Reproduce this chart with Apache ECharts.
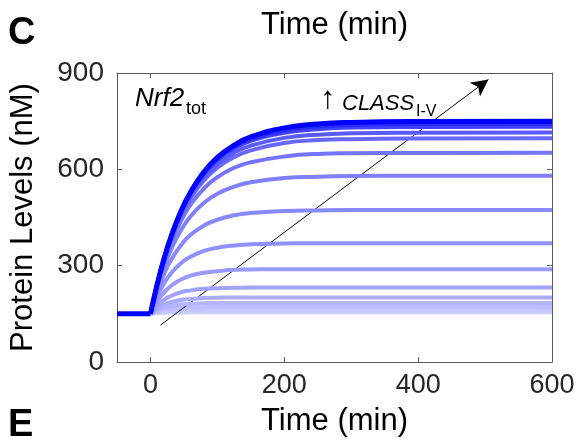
<!DOCTYPE html>
<html>
<head>
<meta charset="utf-8">
<script src="https://cdn.jsdelivr.net/npm/echarts@6/dist/echarts.min.js"></script>
<style>
html,body{margin:0;padding:0;background:#fff;}
#chart{width:579px;height:444px;}
</style>
</head>
<body>
<div id="chart"></div>
<script>
// ---- data ----
const timePoints = [0, 10, 20, 30, 45, 60, 80, 100, 125, 150, 200, 250, 300, 400, 600];
const baselineTime = [-50, 0];
const baselineValue = [150, 150];

const nrf2_c01 = [150,152,153,154,154,155,155,155,155,155,155,155,155,155,155];
const nrf2_c02 = [150,154,157,159,160,161,162,162,162,162,162,162,162,162,162];
const nrf2_c03 = [150,158,163,166,169,170,171,172,172,172,172,172,172,172,172];
const nrf2_c04 = [150,162,169,174,179,181,183,184,184,184,184,184,184,184,184];
const nrf2_c05 = [150,167,178,186,193,196,199,200,201,201,201,201,201,201,201];
const nrf2_c06 = [150,175,193,205,217,223,228,230,231,232,232,232,232,232,232];
const nrf2_c07 = [150,188,216,236,256,269,278,283,287,288,289,289,289,289,289];
const nrf2_c08 = [150,203,244,274,307,328,346,356,363,367,369,370,370,370,370];
const nrf2_c09 = [150,218,272,315,362,396,425,443,457,464,470,472,473,473,473];
const nrf2_c10 = [150,229,294,347,408,454,496,524,546,560,573,577,579,580,580];
const nrf2_c11 = [150,236,308,367,437,490,541,576,605,622,640,648,650,651,652];
const nrf2_c12 = [150,239,314,377,452,510,566,605,638,659,682,691,694,696,697];
const nrf2_c13 = [150,241,317,381,458,518,576,617,652,674,698,708,712,714,715];
const nrf2_c14 = [150,242,320,385,465,526,586,629,665,689,714,725,730,732,733];
const nrf2_c15 = [150,242,320,386,466,528,589,633,671,695,722,733,738,741,742];
const nrf2_c16 = [150,242,320,386,467,529,592,637,675,701,729,741,746,749,750];

const curves = [nrf2_c01,nrf2_c02,nrf2_c03,nrf2_c04,nrf2_c05,nrf2_c06,nrf2_c07,nrf2_c08,
                nrf2_c09,nrf2_c10,nrf2_c11,nrf2_c12,nrf2_c13,nrf2_c14,nrf2_c15,nrf2_c16];
const curveColors = ['#cfcfff','#c6c6ff','#bdbdff','#b4b4ff','#ababff','#a2a2ff','#9999ff','#9090ff',
                     '#8888ff','#8080ff','#7474ff','#6868ff','#5a5aff','#4040ff','#2a2aff','#0000ff'];

const xTicks = [0, 200, 400, 600];
const arrowStart = [15, 115];
const arrowEnd = [505, 880];

// ---- chart ----
const FONT = 'Liberation Sans, Arial, sans-serif';
const AX = '#5a5a5a';
const LBL = '#262626';
const chart = echarts.init(document.getElementById('chart'), null, {renderer: 'canvas'});

const series = [];
curves.forEach((c, i) => {
  series.push({
    type: 'line',
    data: timePoints.map((t, k) => [t, c[k]]),
    showSymbol: false,
    smooth: 0.5,
    silent: true,
    z: 2 + i,
    lineStyle: {color: curveColors[i], width: i === curves.length - 1 ? 5 : 4}
  });
});
series.push({
  type: 'line',
  data: baselineTime.map((t, k) => [t, baselineValue[k]]),
  showSymbol: false,
  silent: true,
  z: 20,
  lineStyle: {color: '#0000ff', width: 5}
});
series.push({
  type: 'line',
  data: [],
  silent: true,
  z: 30,
  markLine: {
    silent: true,
    symbol: ['none', 'arrow'],
    symbolSize: [13, 17],
    label: {show: false},
    lineStyle: {color: '#000', width: 1, type: 'solid'},
    data: [[{coord: arrowStart}, {coord: arrowEnd}]]
  }
});

const option = {
  animation: false,
  backgroundColor: '#fff',
  textStyle: {fontFamily: FONT},
  grid: {left: 117, right: 27, top: 73, bottom: 82, containLabel: false, outerBoundsMode: 'none'},
  xAxis: [
    {
      type: 'value', min: -50, max: 600, position: 'bottom',
      name: 'Time (min)', nameLocation: 'middle', nameGap: 44,
      nameTextStyle: {fontSize: 31, color: '#000', fontFamily: FONT},
      axisLine: {show: true, onZero: false, lineStyle: {color: AX, width: 1}},
      axisTick: {show: true, inside: true, length: 5, customValues: xTicks, lineStyle: {color: AX}},
      axisLabel: {show: true, customValues: xTicks, fontSize: 27, color: LBL, margin: 10, fontFamily: FONT},
      splitLine: {show: false}
    },
    {
      type: 'value', min: -50, max: 600, position: 'top',
      name: 'Time (min)', nameLocation: 'middle', nameGap: 32,
      nameTextStyle: {fontSize: 31, color: '#000', fontFamily: FONT},
      axisLine: {show: true, onZero: false, lineStyle: {color: AX, width: 1}},
      axisTick: {show: true, inside: true, length: 5, customValues: xTicks, lineStyle: {color: AX}},
      axisLabel: {show: false},
      splitLine: {show: false}
    }
  ],
  yAxis: [
    {
      type: 'value', min: 0, max: 900, interval: 300, position: 'left',
      name: 'Protein Levels (nM)', nameLocation: 'middle', nameGap: 78,
      nameTextStyle: {fontSize: 31, color: '#000', fontFamily: FONT},
      axisLine: {show: true, onZero: false, lineStyle: {color: AX, width: 1}},
      axisTick: {show: true, inside: true, length: 5, lineStyle: {color: AX}},
      axisLabel: {fontSize: 28, color: LBL, margin: 13, fontFamily: FONT},
      splitLine: {show: false}
    },
    {
      type: 'value', min: 0, max: 900, interval: 300, position: 'right',
      axisLine: {show: true, onZero: false, lineStyle: {color: AX, width: 1}},
      axisTick: {show: true, inside: true, length: 5, lineStyle: {color: AX}},
      axisLabel: {show: false},
      splitLine: {show: false}
    }
  ],
  graphic: [
    {type: 'text', left: 8, top: 15, style: {text: 'C', font: 'bold 38px ' + FONT, fill: '#000'}},
    {type: 'text', left: 8, top: 407, style: {text: 'E', font: 'bold 38px ' + FONT, fill: '#000'}},
    {type: 'text', left: 135, top: 86, style: {text: 'Nrf2', font: 'italic 26px ' + FONT, fill: '#000'}},
    {type: 'text', left: 186, top: 100, style: {text: 'tot', font: '18px ' + FONT, fill: '#000'}},
    {type: 'text', left: 320, top: 84, style: {text: '↑', font: '31px ' + FONT, fill: '#000'}},
    {type: 'text', left: 342, top: 93, style: {text: 'CLASS', font: 'italic 22px ' + FONT, fill: '#000'}},
    {type: 'text', left: 416, top: 104, style: {text: 'I-V', font: '16px ' + FONT, fill: '#000'}}
  ],
  series: series
};
chart.setOption(option);
</script>
</body>
</html>
